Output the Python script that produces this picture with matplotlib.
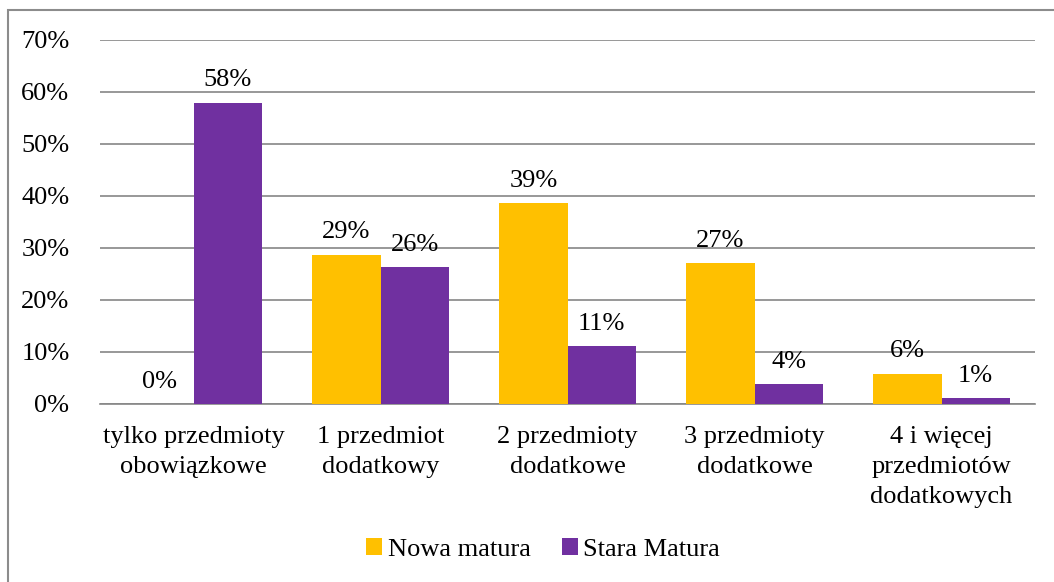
import numpy as np
import matplotlib.pyplot as plt
from matplotlib.patches import Rectangle

kategorie = ['tylko przedmioty\nobowiązkowe', '1 przedmiot\ndodatkowy', '2 przedmioty\ndodatkowe',
             '3 przedmioty\ndodatkowe', '4 i więcej\nprzedmiotów\ndodatkowych']
nowa = [0, 28.7, 38.6, 27.1, 5.8]
stara = [57.9, 26.3, 11.1, 3.8, 1.1]
etyk_nowa = ['0%', '29%', '39%', '27%', '6%']
etyk_stara = ['58%', '26%', '11%', '4%', '1%']

plt.rcParams['font.family'] = ['Liberation Serif', 'DejaVu Serif']
fs = 19

fig = plt.figure(figsize=(10.54, 5.82), dpi=100)
fig.patches.append(Rectangle((8 / 1054, -0.1), 1.1, 1 - 10 / 582 + 0.1, transform=fig.transFigure,
                             fill=False, edgecolor='#8c8c8c', linewidth=1.5))
ax = fig.add_axes([100 / 1054, 1 - 404 / 582, 935 / 1054, 364 / 582])

x = np.arange(len(kategorie))
w = 0.364
ax.bar(x - w / 2, nowa, w, color='#FFC000', label='Nowa matura', zorder=3)
ax.bar(x + w / 2, stara, w, color='#7030A0', label='Stara Matura', zorder=3)

for i in range(len(x)):
    ax.text(x[i] - w / 2, nowa[i] + 2.2, etyk_nowa[i], ha='center', va='bottom', fontsize=fs)
    ax.text(x[i] + w / 2, stara[i] + 2.2, etyk_stara[i], ha='center', va='bottom', fontsize=fs)

ax.set_xlim(-0.5, len(x) - 0.5)
ax.set_ylim(0, 70)
ax.set_yticks(range(0, 71, 10))
ax.set_yticklabels([f'{v}%' for v in range(0, 71, 10)], fontsize=fs)
ax.set_xticks(x)
ax.set_xticklabels(kategorie, fontsize=fs, linespacing=1.45)
ax.tick_params(axis='both', length=0)
ax.tick_params(axis='x', pad=16)
ax.tick_params(axis='y', pad=22)
ax.grid(axis='y', color='#868686', linewidth=1.2, zorder=0)
for s in ['top', 'right', 'left']:
    ax.spines[s].set_visible(False)
ax.spines['bottom'].set_color('#868686')
ax.spines['bottom'].set_linewidth(1.2)

ax.legend(loc='center', bbox_to_anchor=(0.474, -0.4), ncol=2, frameon=False, fontsize=fs,
          handlelength=0.6, handleheight=0.6, handletextpad=0.2, columnspacing=1.2)

plt.savefig('out.png', dpi=100)
